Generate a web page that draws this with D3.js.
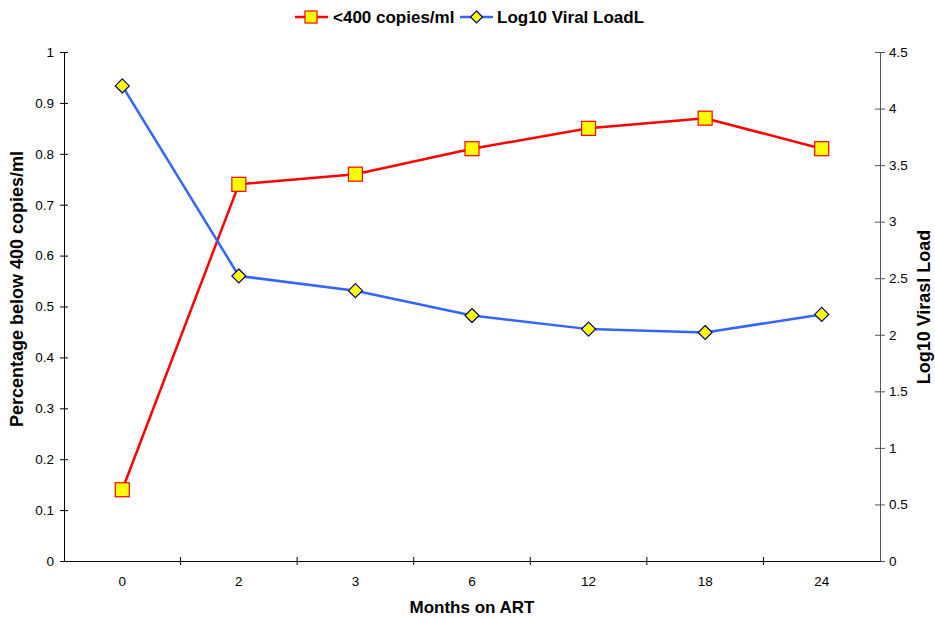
<!DOCTYPE html>
<html>
<head>
    <script src="https://d3js.org/d3.v7.min.js"></script>
    <style>
        body { margin: 0; background-color: #FFFFFF; }
        text { font-family: "Liberation Sans", Arial, sans-serif; }
    </style>
</head>
<body>
    <div id="chart"></div>
    <script>
        // Data
        var months = ["0", "2", "3", "6", "12", "18", "24"];
        var below400 = [0.14, 0.74, 0.76, 0.81, 0.85, 0.87, 0.81];
        var logViralLoad = [4.2, 2.52, 2.39, 2.17, 2.05, 2.02, 2.18];
        var seriesNames = ["<400 copies/ml", "Log10 Viral LoadL"];

        var margin = { top: 52, right: 55, bottom: 57, left: 64 };
        var totalW = 935, totalH = 618;
        var width = totalW - margin.left - margin.right;
        var height = totalH - margin.top - margin.bottom;

        var svg = d3.select("#chart")
            .append("svg")
            .attr("width", totalW)
            .attr("height", totalH);

        var g = svg.append("g")
            .attr("transform", "translate(" + margin.left + "," + margin.top + ")");

        // Scales
        var x = d3.scaleBand().domain(months).range([0, width]).padding(0);
        var yLeft = d3.scaleLinear().domain([0, 1]).range([height, 0]);
        var yRight = d3.scaleLinear().domain([0, 4.5]).range([height, 0]);

        var fmt = function(d) { return String(+d.toFixed(1)); };

        // Left axis
        var leftAxis = g.append("g")
            .call(d3.axisLeft(yLeft).ticks(10).tickFormat(fmt).tickSize(4).tickSizeOuter(0).tickPadding(6));
        leftAxis.selectAll(".tick line").attr("x1", 4);
        leftAxis.selectAll("text").style("font-size", "13.5px").attr("fill", "#000");
        leftAxis.select(".domain").attr("stroke", "#000");

        // Right axis
        var rightAxis = g.append("g")
            .attr("transform", "translate(" + width + ",0)")
            .call(d3.axisRight(yRight).ticks(9).tickFormat(fmt).tickSize(5).tickSizeOuter(0).tickPadding(4));
        rightAxis.selectAll(".tick line").attr("x1", -5).attr("stroke", "#555");
        rightAxis.selectAll("text").style("font-size", "13.5px").attr("fill", "#000");
        rightAxis.select(".domain").attr("stroke", "#555");

        // Bottom axis: labels at band centres, ticks at band edges
        var bottomAxis = g.append("g")
            .attr("transform", "translate(0," + height + ")")
            .call(d3.axisBottom(x).tickSize(0).tickPadding(15).tickSizeOuter(0));
        bottomAxis.selectAll("text").style("font-size", "13.5px").attr("fill", "#000");
        bottomAxis.select(".domain").attr("stroke", "#000");

        var edges = months.slice(1).map(function(m) { return x(m); });
        bottomAxis.selectAll(".edge")
            .data(edges)
            .enter()
            .append("line")
            .attr("x1", function(d) { return d; })
            .attr("x2", function(d) { return d; })
            .attr("y1", -4)
            .attr("y2", 4)
            .attr("stroke", "#000");

        var cx = function(i) { return x(months[i]) + x.bandwidth() / 2; };

        // Red series
        g.append("path")
            .datum(below400)
            .attr("fill", "none")
            .attr("stroke", "#FF0000")
            .attr("stroke-width", 2.5)
            .attr("d", d3.line()
                .x(function(d, i) { return cx(i); })
                .y(function(d) { return yLeft(d); }));

        g.selectAll(".sq")
            .data(below400)
            .enter()
            .append("rect")
            .attr("x", function(d, i) { return cx(i) - 7; })
            .attr("y", function(d) { return yLeft(d) - 7; })
            .attr("width", 14)
            .attr("height", 14)
            .attr("fill", "#FFFF00")
            .attr("stroke", "#FF0000")
            .attr("stroke-width", 1.2);

        // Blue series
        g.append("path")
            .datum(logViralLoad)
            .attr("fill", "none")
            .attr("stroke", "#3366FF")
            .attr("stroke-width", 2.5)
            .attr("d", d3.line()
                .x(function(d, i) { return cx(i); })
                .y(function(d) { return yRight(d); }));

        var diamond = "M0,-7L7,0L0,7L-7,0Z";
        g.selectAll(".dm")
            .data(logViralLoad)
            .enter()
            .append("path")
            .attr("d", diamond)
            .attr("transform", function(d, i) { return "translate(" + cx(i) + "," + yRight(d) + ")"; })
            .attr("fill", "#FFFF00")
            .attr("stroke", "#000080")
            .attr("stroke-width", 1.2);

        // Axis titles
        svg.append("text")
            .attr("x", margin.left + width / 2)
            .attr("y", 613)
            .attr("text-anchor", "middle")
            .style("font-size", "17px")
            .style("font-weight", "bold")
            .text("Months on ART");

        svg.append("text")
            .attr("transform", "translate(23," + 289 + ") rotate(-90)")
            .attr("text-anchor", "middle")
            .style("font-size", "18px")
            .style("font-weight", "bold")
            .text("Percentage below 400 copies/ml");

        svg.append("text")
            .attr("transform", "translate(930," + 307 + ") rotate(-90)")
            .attr("text-anchor", "middle")
            .style("font-size", "18px")
            .style("font-weight", "bold")
            .text("Log10 Virasl Load");

        // Legend
        var legend = svg.append("g").attr("transform", "translate(295,17)");
        var leg1 = legend.append("g");
        leg1.append("line").attr("x1", 0).attr("x2", 33).attr("y1", 0).attr("y2", 0)
            .attr("stroke", "#FF0000").attr("stroke-width", 2.5);
        leg1.append("rect").attr("x", 10).attr("y", -6).attr("width", 12).attr("height", 12)
            .attr("fill", "#FFFF00").attr("stroke", "#FF0000").attr("stroke-width", 1.2);
        leg1.append("text").attr("x", 38).attr("y", 6)
            .style("font-size", "17px").style("font-weight", "bold").text(seriesNames[0]);

        var leg2 = legend.append("g").attr("transform", "translate(165,0)");
        leg2.append("line").attr("x1", 0).attr("x2", 33).attr("y1", 0).attr("y2", 0)
            .attr("stroke", "#3366FF").attr("stroke-width", 2.5);
        leg2.append("path").attr("d", "M0,-6L6,0L0,6L-6,0Z").attr("transform", "translate(16.5,0)")
            .attr("fill", "#FFFF00").attr("stroke", "#000080").attr("stroke-width", 1.2);
        leg2.append("text").attr("x", 37).attr("y", 6)
            .style("font-size", "17px").style("font-weight", "bold").text(seriesNames[1]);
    </script>
</body>
</html>
